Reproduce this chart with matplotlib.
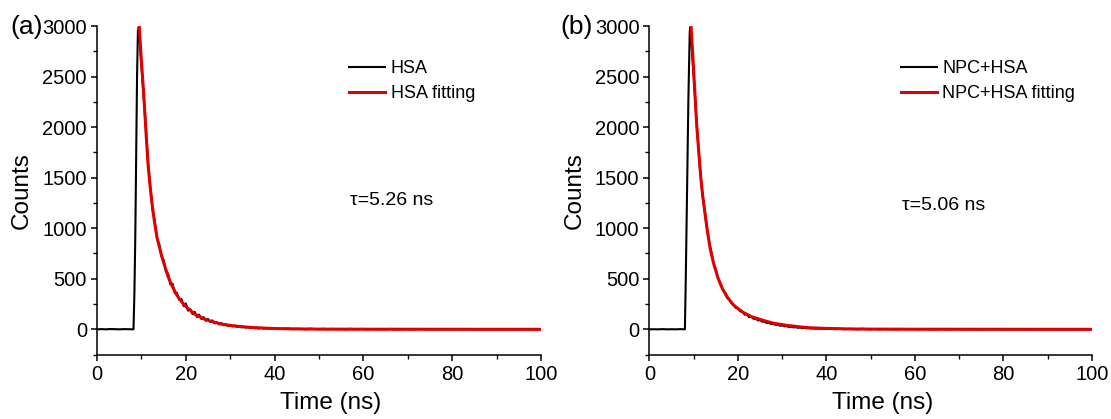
import matplotlib
matplotlib.use("Agg")
import matplotlib.pyplot as plt
import numpy as np
from matplotlib.ticker import MultipleLocator

plt.rcParams['font.family'] = ['Liberation Sans', 'DejaVu Sans']

# ---- data ----
# measured decays: baseline, rise, decay (0.5 ns steps), tail (1 ns steps)
base_t = [0, 1, 2, 3, 4, 5, 6, 7, 8]
base_a = [0, 2, 0, 3, 1, 0, 2, 1, 0]
base_b = [0, 1, 0, 2, 0, 1, 0, 2, 0]

rise_t_a = [8.2, 8.4, 8.6, 8.8, 9.0, 9.2, 9.4, 9.7]
rise_a = [0, 350, 900, 1700, 2500, 2950, 2990, 2790]
rise_t_b = [8.0, 8.2, 8.5, 8.8, 9.1, 9.3, 9.6]
rise_b = [0, 500, 1400, 2300, 2950, 2990, 2750]

decay_t = [10.0 + 0.5 * i for i in range(61)]
decay_a = [2600, 2290, 1990, 1640, 1400, 1180, 1070, 895, 840, 720,
           685, 570, 550, 445, 450, 360, 360, 290, 300, 230,
           255, 185, 200, 150, 172, 122, 146, 102, 120, 84,
           102, 72, 88, 58, 70, 48, 62, 40, 50, 33,
           44, 29, 36, 25, 32, 20, 28, 17, 24, 13,
           21, 11, 18, 9, 15, 7, 13, 6, 11, 5, 8]
decay_b = [2500, 2150, 1830, 1540, 1320, 1170, 990, 860, 760, 650,
           585, 505, 455, 400, 360, 315, 300, 260, 245, 212,
           205, 178, 175, 145, 152, 120, 128, 104, 106, 88,
           90, 76, 76, 62, 64, 52, 54, 44, 46, 36,
           38, 30, 31, 24, 26, 19, 22, 15, 18, 12,
           15, 10, 12, 8, 10, 6, 9, 5, 7, 3, 5]

tail_t = list(range(41, 101))
tail_a = [6, 3, 7, 2, 5, 4, 1, 6, 3, 2, 5, 1, 4, 2, 3, 0, 5, 1, 2, 4,
          0, 3, 1, 2, 0, 4, 1, 0, 2, 3, 0, 1, 3, 0, 2, 1, 0, 2, 1, 0,
          3, 0, 1, 2, 0, 1, 0, 2, 1, 0, 1, 0, 2, 0, 1, 0, 1, 0, 2, 0]
tail_b = [5, 2, 6, 1, 4, 3, 1, 5, 2, 1, 4, 0, 3, 2, 1, 0, 4, 1, 2, 3,
          0, 2, 1, 1, 0, 3, 1, 0, 2, 2, 0, 1, 2, 0, 1, 1, 0, 2, 0, 0,
          2, 0, 1, 1, 0, 1, 0, 2, 0, 0, 1, 0, 1, 0, 1, 0, 1, 0, 1, 0]

# fitted curves
fit_t_a = [9.5, 10.0, 10.5, 11.0, 11.5, 12.0, 12.5, 13.0, 13.5, 14.0, 14.5, 15.0,
           16.0, 17.0, 18.0, 19.0, 20.0, 22.0, 24.0, 26.0, 28.0, 30.0, 33.0,
           36.0, 40.0, 45.0, 50.0, 60.0, 100.0]
fit_a = [2990, 2640, 2330, 1960, 1620, 1390, 1200, 1040, 910, 820, 735, 660,
         520, 420, 335, 275, 225, 150, 105, 75, 52, 38, 24,
         15, 8, 4, 2, 1, 0]
fit_t_b = [9.4, 9.8, 10.1, 10.7, 11.2, 11.6, 12.0, 12.5, 13.0, 13.7, 14.5, 15.5,
           16.5, 17.8, 19.0, 21.0, 23.0, 25.7, 28.0, 31.0, 34.0, 36.3, 40.0,
           45.0, 50.0, 60.0, 100.0]
fit_b = [2990, 2700, 2460, 2000, 1720, 1500, 1330, 1160, 1000, 800, 650, 505,
         400, 305, 240, 172, 125, 89, 60, 40, 24, 15, 9,
         4, 2, 1, 0]

panels = [
    dict(t=base_t + rise_t_a + decay_t + tail_t, y=base_a + rise_a + decay_a + tail_a,
         ft=fit_t_a, fy=fit_a, names=("HSA", "HSA fitting"), tau=r"τ=5.26 ns",
         tag="(a)", rect=[0.0874, 0.1537, 0.3995, 0.7842], tagx=10, tauy=0.47),
    dict(t=base_t + rise_t_b + decay_t + tail_t, y=base_b + rise_b + decay_b + tail_b,
         ft=fit_t_b, fy=fit_b, names=("NPC+HSA", "NPC+HSA fitting"), tau=r"τ=5.06 ns",
         tag="(b)", rect=[0.5846, 0.1537, 0.3983, 0.7842], tagx=560, tauy=0.455),
]

fig = plt.figure(figsize=(11.11, 4.19), dpi=100)

for p in panels:
    ax = fig.add_axes(p["rect"])
    ax.plot(p["t"], p["y"], color="black", lw=1.5, label=p["names"][0])
    ax.plot(p["ft"], p["fy"], color="#e00000", lw=2.2, label=p["names"][1])
    ax.set_xlim(0, 100)
    ax.set_ylim(-250, 3000)
    ax.xaxis.set_major_locator(MultipleLocator(20))
    ax.xaxis.set_minor_locator(MultipleLocator(10))
    ax.yaxis.set_major_locator(MultipleLocator(500))
    ax.yaxis.set_minor_locator(MultipleLocator(250))
    for s in ("top", "right"):
        ax.spines[s].set_visible(False)
    for s in ("left", "bottom"):
        ax.spines[s].set_linewidth(1.1)
    ax.tick_params(which="major", direction="out", length=4.3, width=1.1,
                   labelsize=14.5, pad=3)
    ax.tick_params(which="minor", direction="out", length=2.6, width=1.0)
    ax.set_xlabel("Time (ns)", fontsize=17.5)
    ax.xaxis.set_label_coords(0.527, -0.115)
    ax.set_ylabel("Counts", fontsize=17.5)
    ax.yaxis.set_label_coords(-0.145, 0.5)
    ax.legend(loc="upper left", bbox_to_anchor=(0.568, 0.897), frameon=False,
              fontsize=13, handlelength=2.0, handletextpad=0.3,
              labelspacing=0.45, borderpad=0, borderaxespad=0)
    ax.text(0.57, p["tauy"], p["tau"], transform=ax.transAxes, fontsize=14,
            va="center", ha="left")
    fig.text(p["tagx"] / 1111, 1 - 27 / 419, p["tag"], fontsize=19,
             va="center", ha="left")

fig.savefig("out.png", dpi=100)
